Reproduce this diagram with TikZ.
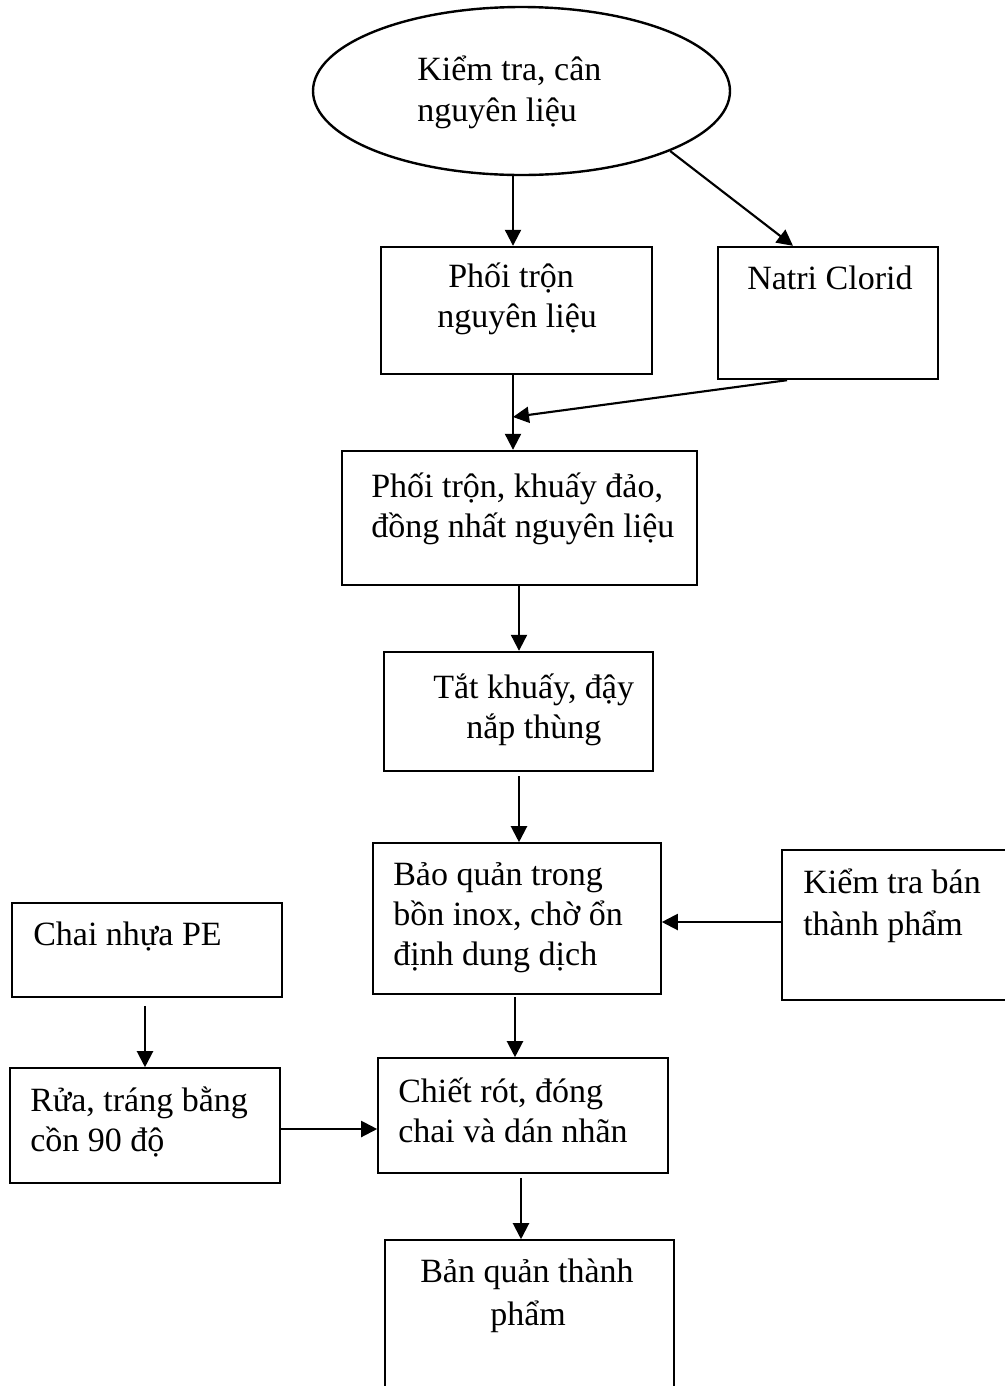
\documentclass[tikz,border=0pt]{standalone}
\usepackage{fontspec}
\setmainfont{Liberation Serif}
\usetikzlibrary{shapes.geometric,arrows.meta,fit}
\begin{document}
\begin{tikzpicture}[x=0.75pt,y=-0.75pt,
  boxthick/.style={draw,line width=1.8pt,inner sep=0pt},
  boxthin/.style={draw,line width=1.2pt,inner sep=0pt},
  txt/.style={inner sep=0pt,anchor=base west,font=\fontsize{25.5}{30}\selectfont},
  arr/.style={line width=1.6pt,-{Triangle[length=12pt,width=12pt]}}]
\useasboundingbox (0,0) rectangle (1005,1386);
\clip (0,0) rectangle (1005,1386);

% shapes
\node[ellipse,draw,line width=1.8pt,inner sep=0pt,minimum width=417*0.75pt,minimum height=168*0.75pt] (ell) at (521.5,91) {};
\node[boxthick,fit={(381,247) (652,374)}] (b1) {};
\node[boxthick,fit={(718,247) (938,379)}] (nat) {};
\node[boxthick,fit={(342,451) (697,585)}] (b3) {};
\node[boxthick,fit={(384,652) (653,771)}] (b4) {};
\node[boxthin,fit={(373,843) (661,994)}] (b5) {};
\node[boxthin,fit={(782,850) (1020,1000)}] (kt) {};
\node[boxthin,fit={(12,903) (282,997)}] (chai) {};
\node[boxthin,fit={(10,1068) (280,1183)}] (rua) {};
\node[boxthin,fit={(378,1058) (668,1173)}] (chiet) {};
\node[boxthin,fit={(385,1240) (674,1400)}] (ban) {};

% texts
\node[txt] (t0a) at (417,80) {Kiểm tra, cân};
\node[txt] (t0b) at (417,121) {nguyên liệu};
\node[txt] (t1a) at (448,287) {Phối trộn};
\node[txt] (t1b) at (437,327) {nguyên liệu};
\node[txt] (t2a) at (747,289) {Natri Clorid};
\node[txt] (t3a) at (371,497) {Phối trộn, khuấy đảo,};
\node[txt] (t3b) at (371,537) {đồng nhất nguyên liệu};
\node[txt] (t4a) at (433,698) {Tắt khuấy, đậy};
\node[txt] (t4b) at (466,738) {nắp thùng};
\node[txt] (t5a) at (393,885) {Bảo quản trong};
\node[txt] (t5b) at (393,925) {bồn inox, chờ ổn};
\node[txt] (t5c) at (393,965) {định dung dịch};
\node[txt] (t6a) at (803,893) {Kiểm tra bán};
\node[txt] (t6b) at (803,935) {thành phẩm};
\node[txt] (t7a) at (33,945) {Chai nhựa PE};
\node[txt] (t8a) at (30,1111) {Rửa, tráng bằng};
\node[txt] (t8b) at (30,1151) {cồn 90 độ};
\node[txt] (t9a) at (398,1102) {Chiết rót, đóng};
\node[txt] (t9b) at (398,1142) {chai và dán nhãn};
\node[txt] (t10a) at (420,1282) {Bản quản thành};
\node[txt] (t10b) at (490,1325) {phẩm};

% connectors
\coordinate (xA) at (513,0);
\coordinate (xB) at (793,0);
\coordinate (xD) at (787,0);
\coordinate (mD) at (513,417);
\coordinate (xE) at (519,0);
\coordinate (yG) at (0,922);
\coordinate (xH) at (145,0);
\coordinate (yI) at (0,1129);
\coordinate (xJ) at (515,0);
\coordinate (xK) at (521,0);

\draw[arr] (ell.south -| xA) -- (b1.north -| xA);
\draw[arr] (ell.-22) -- (nat.north -| xB);
\draw[arr] (b1.south -| xA) -- (b3.north -| xA);
\draw[arr] (nat.south -| xD) -- (mD);
\draw[arr] (b3.south -| xE) -- (b4.north -| xE);
\draw[arr,shorten <=3pt] (b4.south -| xE) -- (b5.north -| xE);
\draw[arr] (kt.west |- yG) -- (b5.east |- yG);
\draw[arr,shorten <=6pt] (chai.south -| xH) -- (rua.north -| xH);
\draw[arr] (rua.east |- yI) -- (chiet.west |- yI);
\draw[arr,shorten <=2pt] (b5.south -| xJ) -- (chiet.north -| xJ);
\draw[arr,shorten <=3pt] (chiet.south -| xK) -- (ban.north -| xK);
\end{tikzpicture}
\end{document}
